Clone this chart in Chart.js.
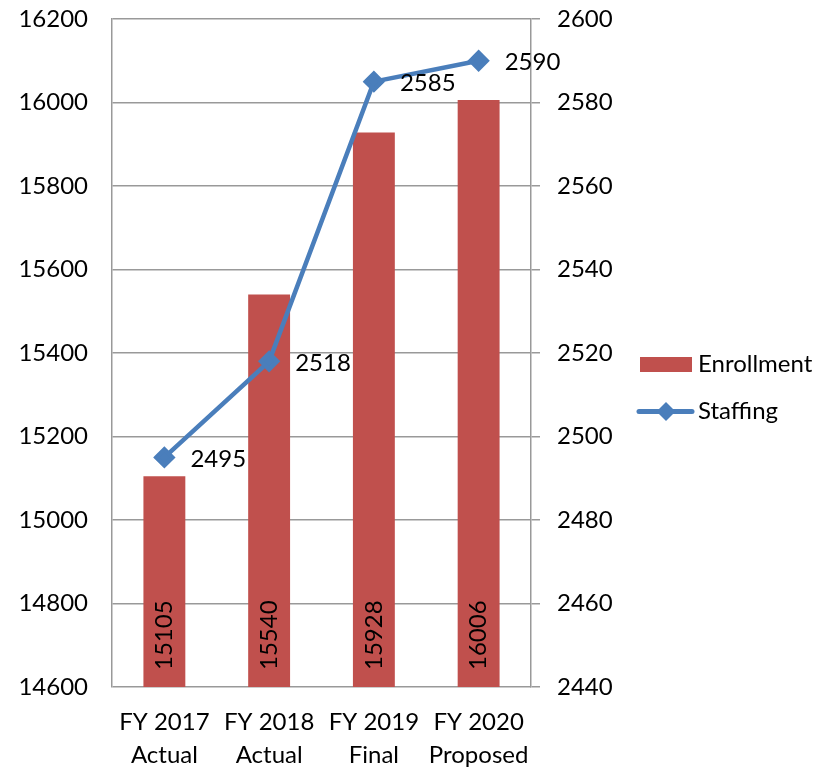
<!DOCTYPE html>
<html>
<head>
<meta charset="utf-8">
<script src="https://cdn.jsdelivr.net/npm/chart.js@4"></script>
<style>
  body { margin: 0; background: #fff; }
  #wrap { width: 834px; height: 767px; }
</style>
</head>
<body>
<div id="wrap"><canvas id="chart"></canvas></div>
<script>
const categories = [['FY 2017', 'Actual'], ['FY 2018', 'Actual'], ['FY 2019', 'Final'], ['FY 2020', 'Proposed']];
const enrollment = [15105, 15540, 15928, 16006];
const staffing = [2495, 2518, 2585, 2590];
const enrollmentAxis = { min: 14600, max: 16200, step: 200 };
const staffingAxis = { min: 2440, max: 2600, step: 20 };
const seriesNames = ['Enrollment', 'Staffing'];

const RED = '#C0504D';
const BLUE = '#4A7EBB';
const GRID = '#999999';
const FONT = 'Lato, "Open Sans", sans-serif';

// value labels: rotated at the bottom of bars, to the right of line points
const valueLabels = {
  id: 'valueLabels',
  afterDatasetsDraw(chart) {
    const ctx = chart.ctx;
    ctx.save();
    ctx.font = '24px ' + FONT;
    ctx.fillStyle = '#000';
    ctx.textBaseline = 'middle';

    chart.getDatasetMeta(0).data.forEach((bar, i) => {
      ctx.save();
      ctx.translate(bar.x, chart.chartArea.bottom - 17);
      ctx.rotate(-Math.PI / 2);
      ctx.textAlign = 'left';
      ctx.fillText(String(enrollment[i]), 0, 0);
      ctx.restore();
    });

    chart.getDatasetMeta(1).data.forEach((pt, i) => {
      ctx.textAlign = 'left';
      ctx.fillText(String(staffing[i]), pt.x + 26, pt.y + 2);
    });
    ctx.restore();
  }
};

// legend drawn by hand to the right of the axis labels
const sideLegend = {
  id: 'sideLegend',
  afterDraw(chart) {
    const ctx = chart.ctx;
    ctx.save();
    ctx.fillStyle = RED;
    ctx.fillRect(640, 357, 52, 15);

    ctx.strokeStyle = BLUE;
    ctx.lineWidth = 5;
    ctx.lineCap = 'round';
    ctx.beginPath();
    ctx.moveTo(639, 411.5);
    ctx.lineTo(692, 411.5);
    ctx.stroke();
    ctx.fillStyle = BLUE;
    ctx.beginPath();
    ctx.moveTo(666, 402);
    ctx.lineTo(675.5, 411.5);
    ctx.lineTo(666, 421);
    ctx.lineTo(656.5, 411.5);
    ctx.closePath();
    ctx.fill();

    ctx.fillStyle = '#000';
    ctx.font = '24px ' + FONT;
    ctx.textBaseline = 'middle';
    ctx.textAlign = 'left';
    ctx.fillText(seriesNames[0], 698, 364);
    ctx.fillText(seriesNames[1], 698, 411);
    ctx.restore();
  }
};

const plainTick = v => String(v);

// fix axis width and drop the extra label padding chart.js adds above/below
const fixWidth = w => s => {
  s.width = w;
  s.paddingTop = 0;
  s.paddingBottom = 0;
};

new Chart(document.getElementById('chart'), {
  data: {
    labels: categories,
    datasets: [
      {
        type: 'bar',
        label: seriesNames[0],
        data: enrollment,
        backgroundColor: RED,
        barPercentage: 0.4,
        categoryPercentage: 1,
        yAxisID: 'y',
        order: 2
      },
      {
        type: 'line',
        label: seriesNames[1],
        data: staffing,
        borderColor: BLUE,
        backgroundColor: BLUE,
        borderWidth: 4.5,
        pointStyle: 'rectRot',
        pointRadius: 8,
        pointHoverRadius: 8,
        tension: 0,
        yAxisID: 'y1',
        order: 1
      }
    ]
  },
  options: {
    responsive: true,
    maintainAspectRatio: false,
    animation: false,
    layout: { padding: { top: 19, left: 0, right: 0, bottom: 0 } },
    plugins: {
      legend: { display: false },
      tooltip: { enabled: false }
    },
    scales: {
      x: {
        grid: { display: false, drawTicks: false },
        border: { display: false },
        ticks: {
          color: '#000',
          font: { family: FONT, size: 24, lineHeight: 1.375 },
          padding: 19,
          maxRotation: 0,
          autoSkip: false
        },
        afterFit: s => { s.height = 80; }
      },
      y: {
        position: 'left',
        min: enrollmentAxis.min,
        max: enrollmentAxis.max,
        grid: { color: GRID, lineWidth: 1.5, drawTicks: false },
        border: { color: GRID, width: 1.5 },
        ticks: {
          stepSize: enrollmentAxis.step,
          color: '#000',
          font: { family: FONT, size: 24 },
          padding: 24,
          callback: plainTick
        },
        afterFit: fixWidth(112)
      },
      y1: {
        position: 'right',
        min: staffingAxis.min,
        max: staffingAxis.max,
        grid: { drawOnChartArea: false, color: GRID, lineWidth: 1.5, tickLength: 9 },
        border: { color: GRID, width: 1.5 },
        ticks: {
          stepSize: staffingAxis.step,
          color: '#000',
          font: { family: FONT, size: 24 },
          padding: 17,
          callback: plainTick
        },
        afterFit: fixWidth(303)
      }
    }
  },
  plugins: [valueLabels, sideLegend]
});
</script>
</body>
</html>
